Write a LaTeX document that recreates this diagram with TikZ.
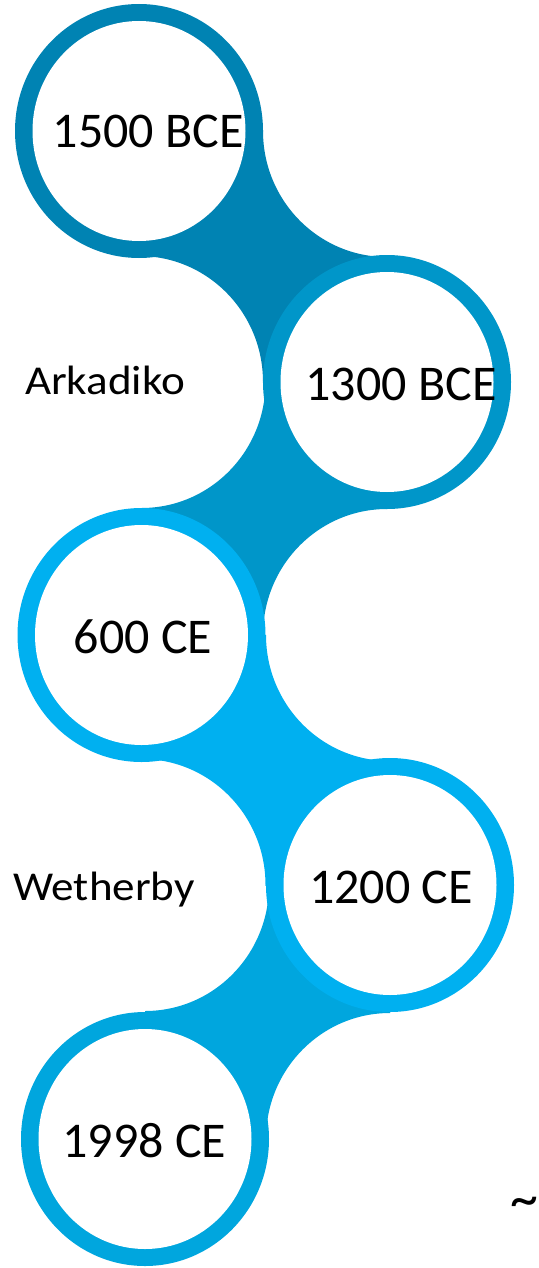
\documentclass[tikz,border=0pt]{standalone}
\usepackage{fontspec}
\setmainfont{Carlito}
\definecolor{cA}{HTML}{0083B3}
\definecolor{cB}{HTML}{0096C9}
\definecolor{cC}{HTML}{00B0F0}
\definecolor{cD}{HTML}{00B0F0}
\definecolor{cE}{HTML}{00A6DE}
\newcommand\drawring[3]{%
  \fill[#3] (#1,#2) ellipse[x radius=124pt, y radius=127pt];
  \fill[white] (#1,#2) ellipse[x radius=106.5pt, y radius=110pt];}
\newcommand\drawneck[5]{%
  \begin{scope}
    \clip (#1,#2) rectangle (#3,#4);
    \fill[#5, even odd rule] (-100,-100) rectangle (700,1400)
      (#3,#2) ellipse[x radius=124pt, y radius=126pt]
      (#1,#4) ellipse[x radius=124pt, y radius=126pt];
  \end{scope}}
\begin{document}
\begin{tikzpicture}[x=1pt,y=-1pt,
  yeartext/.style={font=\fontsize{50}{60}\selectfont, anchor=base, inner sep=0pt},
  sitetext/.style={font=\fontsize{41}{49}\selectfont, anchor=base, inner sep=0pt},
  marktext/.style={font=\fontsize{56}{60}\selectfont, anchor=base, inner sep=0pt}]
\useasboundingbox (0,0) rectangle (538,1268);
% connecting necks
\drawneck{139}{131}{387}{382}{cA}
\drawneck{387}{382}{141.5}{635}{cB}
\drawneck{141.5}{635}{390}{885}{cC}
\drawneck{390}{885}{145}{1139}{cE}
% rings
\drawring{139}{131}{cA}
\drawring{387}{382}{cB}
\drawring{141.5}{635}{cC}
\drawring{390}{885}{cD}
\drawring{145}{1139}{cE}
% texts
\node[yeartext] (y1) at (148.4,147.3) {1500 BCE};
\node[yeartext] (y2) at (401,400) {1300 BCE};
\node[yeartext] (y3) at (143,653) {600 CE};
\node[yeartext] (y4) at (391,903) {1200 CE};
\node[yeartext] (y5) at (144.5,1157) {1998 CE};
\node[sitetext] (s1) at (105,394.3) {\scalebox{1.1}[1]{Arkadiko}};
\node[sitetext] (s2) at (104,900.7) {\scalebox{1.1}[1]{Wetherby}};
\node[marktext] (m1) at (524,1217) {\char`\~};
\end{tikzpicture}
\end{document}
